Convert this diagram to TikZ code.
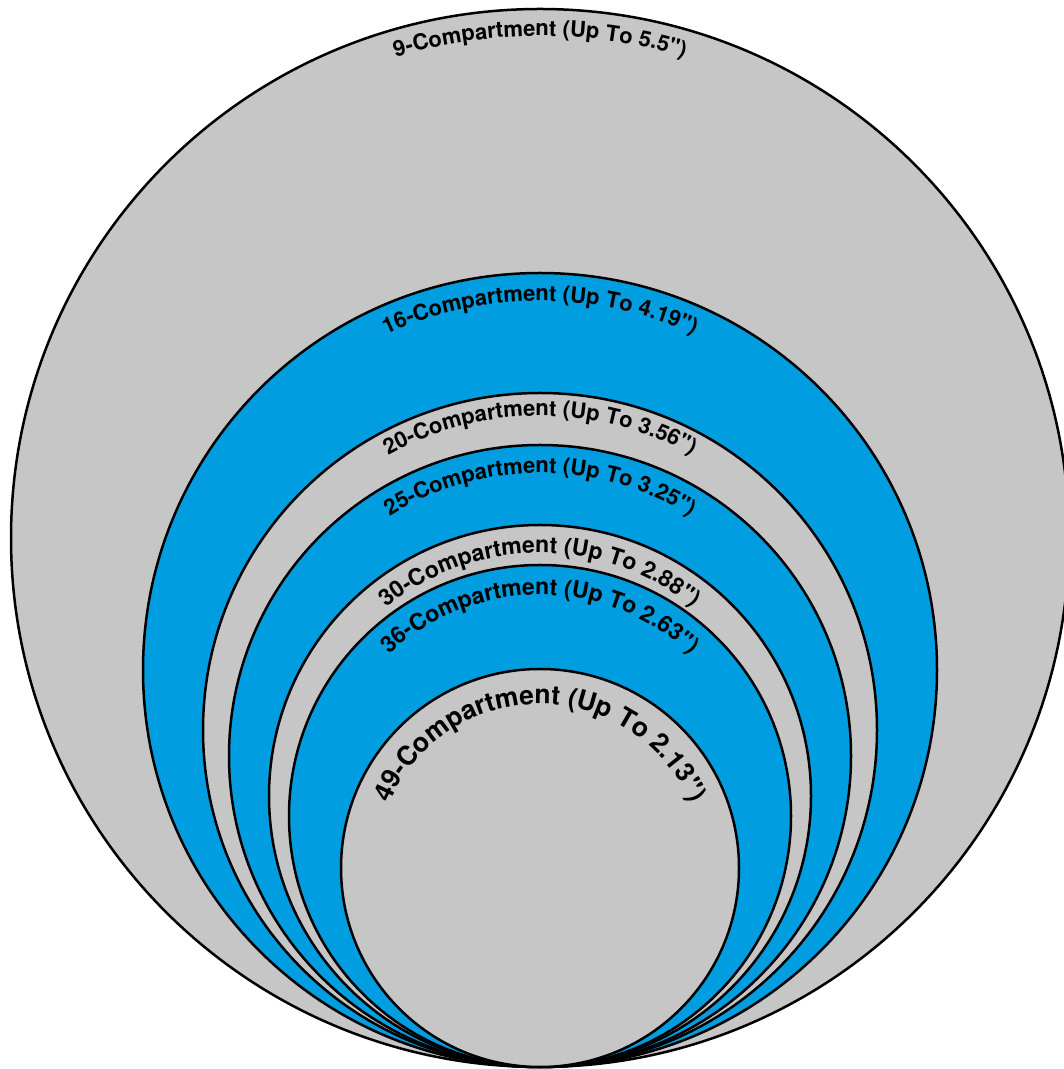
\documentclass[tikz,border=0pt]{standalone}
\usepackage{fontspec}
\setmainfont{TeX Gyre Heros}[Ligatures=TeXOff]
\usetikzlibrary{decorations.text}

\definecolor{ringgrey}{RGB}{198,198,198}
\definecolor{ringblue}{RGB}{0,158,224}

\tikzset{
  ring/.style={draw=black, line width=2.5pt},
  greyring/.style={ring, fill=ringgrey},
  bluering/.style={ring, fill=ringblue},
  ringlabel/.style 2 args={decorate, decoration={text along path, text align=center,
      text={|\bfseries\fontsize{#1}{#1}\selectfont|#2}}}
}

\begin{document}
\begin{tikzpicture}[x=1pt, y=1pt]
  \clip (0,0) rectangle (1064,1069); % page frame

  % centres, all rings touch at the bottom
  \coordinate (c9) at (540,531);
  \coordinate (c16) at (540,399);
  \coordinate (c20) at (540,339);
  \coordinate (c25) at (540,313);
  \coordinate (c30) at (540,273);
  \coordinate (c36) at (540,253);
  \coordinate (c49) at (540,201);

  % rings, largest first
  \draw[greyring] (c9) circle[radius=529];
  \path[ringlabel={22}{9-Compartment (Up To 5.5")}] (c9) ++(180:502) arc[start angle=180, end angle=0, radius=502];

  \draw[bluering] (c16) circle[radius=397];
  \path[ringlabel={22}{16-Compartment (Up To 4.19")}] (c16) ++(180:369) arc[start angle=180, end angle=0, radius=369];

  \draw[greyring] (c20) circle[radius=337];
  \path[ringlabel={22}{20-Compartment (Up To 3.56")}] (c20) ++(180:314) arc[start angle=180, end angle=0, radius=314];

  \draw[bluering] (c25) circle[radius=311];
  \path[ringlabel={22}{25-Compartment (Up To 3.25")}] (c25) ++(180:283) arc[start angle=180, end angle=0, radius=283];

  \draw[greyring] (c30) circle[radius=271];
  \path[ringlabel={23}{30-Compartment (Up To 2.88")}] (c30) ++(180:243) arc[start angle=180, end angle=0, radius=243];

  \draw[bluering] (c36) circle[radius=251];
  \path[ringlabel={23}{36-Compartment (Up To 2.63")}] (c36) ++(180:221) arc[start angle=180, end angle=0, radius=221];

  \draw[greyring] (c49) circle[radius=199];
  \path[ringlabel={26.5}{49-Compartment (Up To 2.13")}] (c49) ++(180:164) arc[start angle=180, end angle=0, radius=164];
\end{tikzpicture}
\end{document}
